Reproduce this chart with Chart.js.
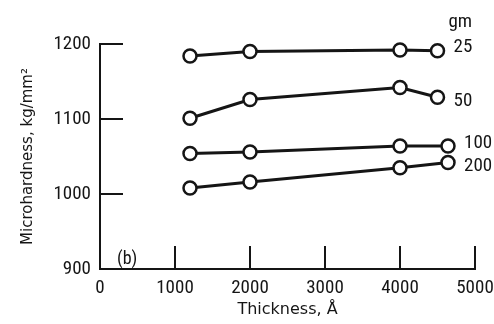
<!DOCTYPE html>
<html>
<head>
<meta charset="utf-8">
<script src="https://cdn.jsdelivr.net/npm/chart.js@4/dist/chart.umd.min.js"></script>
<style>
html,body{margin:0;padding:0;background:#fff;}
#wrap{width:494px;height:324px;position:relative;}
</style>
</head>
<body>
<div id="wrap"><canvas id="c" width="494" height="324"></canvas></div>
<script>
// ---- data ----
const seriesNames = ["25", "50", "100", "200"];
const thickness25 = [1200, 2000, 4000, 4500];
const hardness25  = [1184, 1190, 1192, 1191];
const thickness50 = [1200, 2000, 4000, 4500];
const hardness50  = [1101, 1126, 1142, 1129];
const thickness100 = [1200, 2000, 4000, 4640];
const hardness100  = [1054, 1056, 1064, 1064];
const thickness200 = [1200, 2000, 4000, 4640];
const hardness200  = [1008, 1016, 1035, 1042];
const xTickMarks = [1000, 2000, 3000, 4000, 5000];
const yTickMarks = [1000, 1100, 1200];
const unitLabel = "gm";
const panelLabel = "(b)";
const xTitle = "Thickness, Å";
const yTitle = "Microhardness, kg/mm²";

const INK = "#151515";
const narrow = "'Roboto Condensed', 'DejaVu Sans Condensed', sans-serif";
const plain = "'DejaVu Sans', 'Open Sans', sans-serif";

function pts(xs, ys){ return xs.map((x,i)=>({x:x, y:ys[i]})); }

function ds(name, xs, ys){
  return {
    label: name,
    data: pts(xs, ys),
    borderColor: INK,
    borderWidth: 3,
    backgroundColor: "#fff",
    pointBackgroundColor: "#fff",
    pointBorderColor: INK,
    pointBorderWidth: 2.5,
    pointRadius: 6.5,
    pointHoverRadius: 6.5,
    tension: 0,
    clip: false
  };
}

// label nudges (style only)
const labelDy = [-4, 4, -3, 4];
const labelDx = [16, 16, 16, 16];

const decor = {
  id: "decor",
  afterDatasetsDraw(chart){
    const ctx = chart.ctx;
    const xs = chart.scales.x, ys = chart.scales.y;
    const ca = chart.chartArea;
    ctx.save();
    ctx.strokeStyle = INK;
    ctx.lineWidth = 2;
    xTickMarks.forEach(v=>{
      const px = Math.round(xs.getPixelForValue(v));
      ctx.beginPath(); ctx.moveTo(px, ca.bottom); ctx.lineTo(px, ca.bottom - 23); ctx.stroke();
    });
    yTickMarks.forEach(v=>{
      const py = Math.round(ys.getPixelForValue(v));
      ctx.beginPath(); ctx.moveTo(ca.left, py); ctx.lineTo(ca.left + 23, py); ctx.stroke();
    });
    ctx.fillStyle = INK;
    ctx.font = "19px " + narrow;
    ctx.textBaseline = "middle";
    ctx.textAlign = "left";
    chart.data.datasets.forEach((d, i)=>{
      const last = d.data[d.data.length-1];
      const px = xs.getPixelForValue(last.x);
      const py = ys.getPixelForValue(last.y);
      ctx.fillText(d.label, px + labelDx[i], py + labelDy[i]);
    });
    const d0 = chart.data.datasets[0];
    const l0 = d0.data[d0.data.length-1];
    ctx.fillText(unitLabel, xs.getPixelForValue(l0.x) + 11, ys.getPixelForValue(l0.y) - 29);
    ctx.font = "18px " + narrow;
    ctx.fillText(panelLabel, ca.left + 17, ca.bottom - 10);
    ctx.restore();
  }
};

new Chart(document.getElementById("c"), {
  type: "line",
  data: {
    datasets: [
      ds(seriesNames[0], thickness25, hardness25),
      ds(seriesNames[1], thickness50, hardness50),
      ds(seriesNames[2], thickness100, hardness100),
      ds(seriesNames[3], thickness200, hardness200)
    ]
  },
  options: {
    responsive: false,
    animation: false,
    devicePixelRatio: 1,
    layout: { padding: { top: 44, right: 19, left: 0, bottom: 0 } },
    plugins: { legend: { display: false }, tooltip: { enabled: false } },
    scales: {
      x: {
        type: "linear",
        min: 0, max: 5000,
        afterFit(s){ s.height = 55; s.paddingLeft = 0; s.paddingRight = 0; },
        grid: { display: false, drawTicks: false },
        border: { display: true, color: INK, width: 2 },
        ticks: { stepSize: 1000, color: INK, padding: 8, maxRotation: 0,
                 callback: v => String(v),
                 font: { family: narrow, size: 19 } },
        title: { display: true, text: xTitle, color: INK,
                 font: { family: plain, size: 16 }, padding: { top: 0, bottom: 5 } }
      },
      y: {
        type: "linear",
        min: 900, max: 1200,
        afterFit(s){ s.width = 100; s.paddingTop = 0; s.paddingBottom = 0; },
        grid: { display: false, drawTicks: false },
        border: { display: true, color: INK, width: 2 },
        ticks: { stepSize: 100, color: INK, padding: 9,
                 callback: v => String(v),
                 font: { family: narrow, size: 19 } },
        title: { display: true, text: yTitle, color: INK,
                 font: { family: plain, size: 15 }, padding: { top: 19, bottom: 0 } }
      }
    }
  },
  plugins: [decor]
});
</script>
</body>
</html>
